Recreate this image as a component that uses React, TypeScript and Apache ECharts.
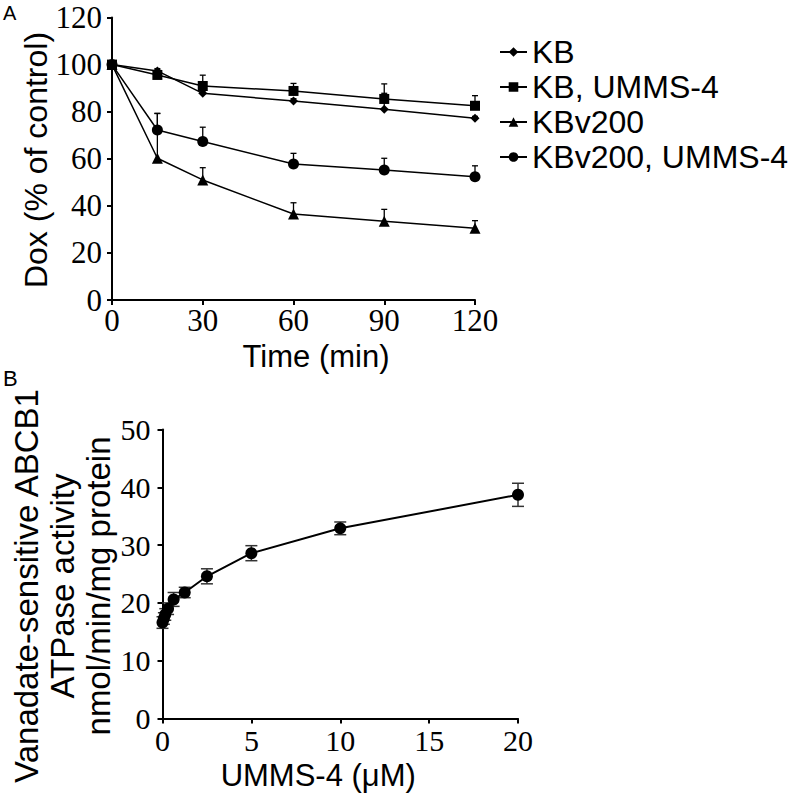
import React, { useEffect, useRef } from "react";
import * as echarts from "echarts";

// Panel A: Dox retention over time
const timesA = [0, 15, 30, 60, 90, 120];
const kb = [100, 97.3, 87.8, 84.5, 81.0, 77.2];
const kbErr = [0, 1.0, 1.0, 1.0, 6.8, 0.8];
const kbU = [100, 95.6, 90.9, 88.8, 85.4, 82.5];
const kbUErr = [0, 1.5, 4.6, 3.2, 6.4, 4.3];
const kbv = [100, 60.2, 51.0, 36.5, 33.4, 30.5];
const kbvErr = [0, 19.0, 5.2, 4.8, 5.1, 3.2];
const kbvU = [100, 72.2, 67.3, 57.8, 55.2, 52.4];
const kbvUErr = [0, 7.1, 6.1, 4.5, 5.0, 4.6];
const seriesNamesA = ["KB", "KB, UMMS-4", "KBv200", "KBv200, UMMS-4"];
const xTicksA = [0, 30, 60, 90, 120];
const yTicksA = [0, 20, 40, 60, 80, 100, 120];
const titleXA = "Time (min)";
const titleYA = "Dox (% of control)";

// Panel B: ATPase activity vs UMMS-4 concentration
const concB = [0, 0.078, 0.156, 0.3125, 0.625, 1.25, 2.5, 5, 10, 20];
const atpase = [16.6, 17.3, 18.0, 19.0, 20.6, 21.8, 24.6, 28.6, 32.9, 38.7];
const atpaseErr = [1.0, 1.0, 1.0, 1.0, 1.2, 0.9, 1.3, 1.3, 1.1, 2.0];
const xTicksB = [0, 5, 10, 15, 20];
const yTicksB = [0, 10, 20, 30, 40, 50];

const SANS = "Liberation Sans";
const SERIF = "Times New Roman";

function errUp(params: any, api: any) {
  const x = api.value(0);
  const y = api.value(1);
  const e = api.value(2);
  if (!e) return null;
  const p0 = api.coord([x, y]);
  const p1 = api.coord([x, y + e]);
  const hw = 3;
  const st = { stroke: "#000", lineWidth: 1.3 };
  return {
    type: "group",
    children: [
      { type: "line", shape: { x1: p0[0], y1: p0[1], x2: p1[0], y2: p1[1] }, style: st },
      { type: "line", shape: { x1: p1[0] - hw, y1: p1[1], x2: p1[0] + hw, y2: p1[1] }, style: st },
    ],
  };
}

function errBoth(params: any, api: any) {
  const x = api.value(0);
  const y = api.value(1);
  const e = api.value(2);
  const p0 = api.coord([x, y - e]);
  const p1 = api.coord([x, y + e]);
  const hw = 6;
  const st = { stroke: "#333", lineWidth: 1.5 };
  return {
    type: "group",
    children: [
      { type: "line", shape: { x1: p0[0], y1: p0[1], x2: p1[0], y2: p1[1] }, style: st },
      { type: "line", shape: { x1: p1[0] - hw, y1: p1[1], x2: p1[0] + hw, y2: p1[1] }, style: st },
      { type: "line", shape: { x1: p0[0] - hw, y1: p0[1], x2: p0[0] + hw, y2: p0[1] }, style: st },
    ],
  };
}

export default function App() {
  const ref = useRef<HTMLDivElement>(null);
  useEffect(() => {
    if (!ref.current) return;
    const chart = echarts.init(ref.current, null, { renderer: "svg" });

    const lineStyleAxis = { color: "#000", width: 2 };

    const groupsA = [
      { name: seriesNamesA[0], vals: kb, err: kbErr, symbol: "diamond", size: 9 },
      { name: seriesNamesA[1], vals: kbU, err: kbUErr, symbol: "rect", size: 10 },
      { name: seriesNamesA[2], vals: kbv, err: kbvErr, symbol: "triangle", size: 11 },
      { name: seriesNamesA[3], vals: kbvU, err: kbvUErr, symbol: "circle", size: 11 },
    ];

    const series: any[] = [];
    groupsA.forEach((g) => {
      series.push({
        type: "custom",
        name: g.name + " error",
        xAxisIndex: 0,
        yAxisIndex: 0,
        renderItem: errUp,
        encode: { x: 0, y: 1 },
        data: timesA.map((t, i) => [t, g.vals[i], g.err[i]]),
        z: 1,
        silent: true,
      });
    });
    groupsA.forEach((g) => {
      series.push({
        type: "line",
        name: g.name,
        xAxisIndex: 0,
        yAxisIndex: 0,
        data: timesA.map((t, i) => [t, g.vals[i]]),
        symbol: g.symbol,
        symbolSize: g.size,
        showAllSymbol: true,
        lineStyle: { color: "#000", width: 1.5 },
        itemStyle: { color: "#000" },
        z: 3,
      });
    });
    series.push({
      type: "custom",
      name: "ATPase error",
      xAxisIndex: 1,
      yAxisIndex: 1,
      renderItem: errBoth,
      encode: { x: 0, y: 1 },
      data: concB.map((c, i) => [c, atpase[i], atpaseErr[i]]),
      z: 1,
      silent: true,
    });
    series.push({
      type: "line",
      name: "ATPase activity",
      xAxisIndex: 1,
      yAxisIndex: 1,
      data: concB.map((c, i) => [c, atpase[i]]),
      symbol: "circle",
      symbolSize: 12,
      showAllSymbol: true,
      lineStyle: { color: "#000", width: 2 },
      itemStyle: { color: "#000" },
      z: 3,
    });

    chart.setOption({
      animation: false,
      textStyle: { fontFamily: SERIF },
      grid: [
        { left: 112, top: 17.5, width: 363, height: 282.5 },
        { left: 162.5, top: 429.5, width: 355.5, height: 289 },
      ],
      legend: {
        data: seriesNamesA,
        orient: "vertical",
        left: 494,
        top: 31,
        itemWidth: 27,
        itemHeight: 12,
        itemGap: 3,
        textStyle: { fontFamily: SANS, fontSize: 32, lineHeight: 32, color: "#000" },
      },
      xAxis: [
        {
          type: "value",
          gridIndex: 0,
          min: xTicksA[0],
          max: xTicksA[xTicksA.length - 1],
          interval: 30,
          axisLine: { lineStyle: lineStyleAxis },
          axisTick: { length: 5, lineStyle: lineStyleAxis },
          splitLine: { show: false },
          axisLabel: { fontFamily: SERIF, fontSize: 31, color: "#000", margin: 5 },
        },
        {
          type: "value",
          gridIndex: 1,
          min: xTicksB[0],
          max: xTicksB[xTicksB.length - 1],
          interval: 5,
          axisLine: { lineStyle: lineStyleAxis },
          axisTick: { length: 5, lineStyle: lineStyleAxis },
          splitLine: { show: false },
          axisLabel: { fontFamily: SERIF, fontSize: 30, color: "#000", margin: 7 },
          name: "UMMS-4 (μM)",
          nameLocation: "middle",
          nameGap: 41,
          nameTextStyle: { fontFamily: SANS, fontSize: 31, color: "#000", padding: [0, 44, 0, 0] },
        },
      ],
      yAxis: [
        {
          type: "value",
          gridIndex: 0,
          min: yTicksA[0],
          max: yTicksA[yTicksA.length - 1],
          interval: 20,
          axisLine: { lineStyle: lineStyleAxis },
          axisTick: { length: 5, lineStyle: lineStyleAxis },
          splitLine: { show: false },
          axisLabel: { fontFamily: SERIF, fontSize: 31, color: "#000", margin: 10 },
        },
        {
          type: "value",
          gridIndex: 1,
          min: yTicksB[0],
          max: yTicksB[yTicksB.length - 1],
          interval: 10,
          axisLine: { lineStyle: lineStyleAxis },
          axisTick: { length: 5, lineStyle: lineStyleAxis },
          splitLine: { show: false },
          axisLabel: { fontFamily: SERIF, fontSize: 30, color: "#000", margin: 12 },
          name: "Vanadate-sensitive ABCB1\nATPase activity\nnmol/min/mg protein",
          nameLocation: "middle",
          nameGap: 44,
          nameTextStyle: {
            fontFamily: SANS,
            fontSize: 33,
            lineHeight: 36,
            color: "#000",
            align: "center",
            padding: [0, 24, 0, 0],
          },
        },
      ],
      graphic: [
        { type: "text", left: 3, top: 3, style: { text: "A", fontFamily: SANS, fontSize: 20, fill: "#000" } },
        { type: "text", left: 3, top: 367, style: { text: "B", fontFamily: SANS, fontSize: 22, fill: "#000" } },
        {
          type: "text",
          x: 316,
          y: 356,
          style: { text: titleXA, fontFamily: SANS, fontSize: 31, fill: "#000", align: "center", verticalAlign: "middle" },
        },
        {
          type: "text",
          x: 36,
          y: 160,
          rotation: Math.PI / 2,
          style: { text: titleYA, fontFamily: SANS, fontSize: 32, fill: "#000", align: "center", verticalAlign: "middle" },
        },
      ],
      series,
    });
    return () => chart.dispose();
  }, []);
  return (
    <div
      ref={ref}
      style={{ position: "fixed", left: 0, top: 0, width: 800, height: 801, background: "#fff" }}
    />
  );
}
